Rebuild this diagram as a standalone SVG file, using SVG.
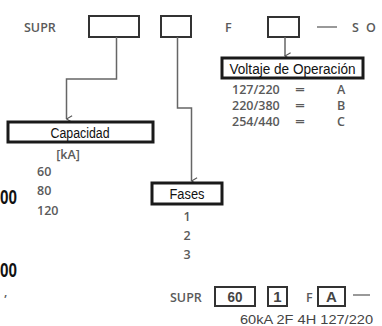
<svg xmlns="http://www.w3.org/2000/svg" width="382" height="326" viewBox="0 0 382 326">
<defs>
<style>
.bg{fill:#ffffff}
.slot{fill:#ffffff;stroke:#333;stroke-width:2}
.lbl{fill:#ffffff;stroke:#1a1a1a;stroke-width:3}
.lt{font-family:"Liberation Sans","Roboto",sans-serif;font-size:14px;fill:#111;text-anchor:middle}
.g{font-family:"Open Sans","Noto Sans",sans-serif;font-weight:600;font-size:12.5px;fill:#5a5a5a}
.gm{font-family:"Open Sans","Noto Sans",sans-serif;font-weight:600;font-size:12.5px;fill:#5a5a5a;text-anchor:middle}
.big{font-family:"Liberation Sans",sans-serif;font-weight:bold;font-size:21px;fill:#111}
.conn{fill:none;stroke:#666;stroke-width:1.5}
.dash{stroke:#777;stroke-width:1.5}
.ex{font-family:"Liberation Sans",sans-serif;font-weight:bold;font-size:15px;fill:#444;text-anchor:middle}
</style>
<marker id="arr" viewBox="0 0 10 10" refX="5" refY="9" markerWidth="8" markerHeight="8" orient="auto-start-reverse" markerUnits="userSpaceOnUse">
<path d="M1,2 L5,9 L9,2" fill="none" stroke="#555" stroke-width="1.4"/>
</marker>
</defs>
<rect class="bg" x="0" y="0" width="382" height="326"/>

<g id="code-top">
<text class="g" x="24" y="32">SUPR</text>
<rect class="slot" x="89" y="16" width="50" height="21"/>
<rect class="slot" x="161" y="16" width="30" height="21"/>
<text class="g" x="225" y="32">F</text>
<rect class="slot" x="268" y="17" width="31" height="20"/>
<line class="dash" x1="317" y1="27" x2="337" y2="27"/>
<text class="g" x="352" y="32">S</text>
<text class="g" x="366" y="32">O</text>
</g>

<g id="connectors">
<polyline class="conn" points="116.5,37 116.5,79 66.5,79 66.5,119" marker-end="url(#arr)"/>
<polyline class="conn" points="177.5,37 177.5,108 191.5,108 191.5,181" marker-end="url(#arr)"/>
<line class="conn" x1="285" y1="37" x2="285" y2="56" marker-end="url(#arr)"/>
</g>

<g id="voltaje">
<rect class="lbl" x="222" y="58" width="141" height="20"/>
<text class="lt" x="292.5" y="73.5" textLength="126" lengthAdjust="spacingAndGlyphs">Voltaje de Operación</text>
<text class="g" x="232" y="94">127/220</text>
<text class="g" x="295" y="94" textLength="10" lengthAdjust="spacingAndGlyphs">=</text>
<text class="g" x="337" y="94">A</text>
<text class="g" x="232" y="110">220/380</text>
<text class="g" x="295" y="110" textLength="10" lengthAdjust="spacingAndGlyphs">=</text>
<text class="g" x="337" y="110">B</text>
<text class="g" x="232" y="126">254/440</text>
<text class="g" x="295" y="126" textLength="10" lengthAdjust="spacingAndGlyphs">=</text>
<text class="g" x="337" y="126">C</text>
</g>

<g id="capacidad">
<rect class="lbl" x="8" y="122" width="145" height="20"/>
<text class="lt" x="80" y="137.5" textLength="59" lengthAdjust="spacingAndGlyphs">Capacidad</text>
<text class="gm" x="68" y="159">[kA]</text>
<text class="g" x="37" y="176">60</text>
<text class="g" x="37" y="195">80</text>
<text class="g" x="37" y="215">120</text>
</g>

<g id="fases">
<rect class="lbl" x="152" y="183" width="70" height="21"/>
<text class="lt" x="187" y="198.5" textLength="35" lengthAdjust="spacingAndGlyphs">Fases</text>
<text class="gm" x="187" y="221">1</text>
<text class="gm" x="187" y="240">2</text>
<text class="gm" x="187" y="259">3</text>
</g>

<g id="cut-left">
<text class="big" x="0" y="204" textLength="17" lengthAdjust="spacingAndGlyphs">00</text>
<text class="big" x="0" y="277" textLength="17" lengthAdjust="spacingAndGlyphs">00</text>
<text class="g" x="4" y="296">,</text>
</g>

<g id="example">
<text class="g" x="170" y="302">SUPR</text>
<rect class="slot" x="215" y="287" width="40" height="19"/>
<text class="ex" x="235" y="302" textLength="15" lengthAdjust="spacingAndGlyphs">60</text>
<rect class="slot" x="268" y="287" width="19" height="19"/>
<text class="ex" x="277.5" y="302">1</text>
<text class="g" x="306" y="302">F</text>
<rect class="slot" x="318" y="287" width="27" height="19"/>
<text class="ex" x="331.5" y="302">A</text>
<line class="dash" x1="353" y1="295" x2="370" y2="295"/>
<text class="lt" x="306.5" y="324" textLength="133" lengthAdjust="spacingAndGlyphs" style="fill:#444;font-size:13.5px">60kA 2F 4H 127/220</text>
</g>
</svg>
